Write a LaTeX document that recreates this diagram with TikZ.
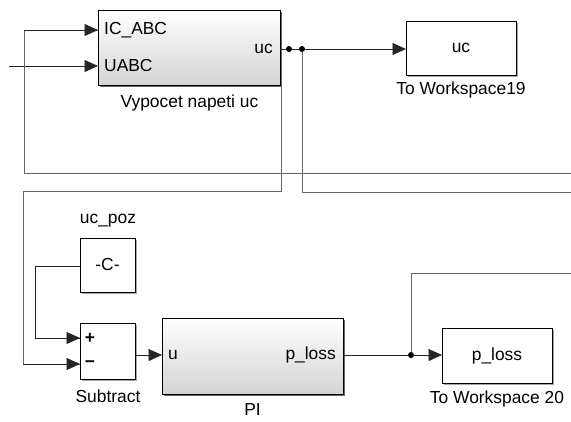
\documentclass[tikz,border=0pt]{standalone}
\usepackage{fontspec}
\setmainfont{Liberation Sans}
\usetikzlibrary{arrows.meta,shadows}
\begin{document}
\begin{tikzpicture}[x=1pt,y=-1pt,
  sig/.style={draw=black!85, line width=0.8pt},
  sigarrow/.style={sig, -{Triangle[length=13.5pt,width=12pt]}},
  fb/.style={draw=black!60, line width=0.9pt},
  block/.style={draw=black, line width=0.9pt, fill=white, inner sep=0pt, outer sep=0pt},
  gblock/.style={block, top color=white, bottom color=black!17,
    drop shadow={shadow xshift=2pt, shadow yshift=-2pt, fill=black!60, opacity=1}},
  wblock/.style={block,
    drop shadow={shadow xshift=1.5pt, shadow yshift=-1.5pt, fill=black!35, opacity=1}},
  txt/.style={font=\fontsize{17.4}{20}\selectfont, inner sep=0pt},
  dot/.style={circle, fill=black, inner sep=0pt, minimum size=6pt}]

\useasboundingbox (0,0) rectangle (571,421);

% ---- blocks ----
\node[gblock, minimum width=182pt, minimum height=75pt] (vyp) at (189,47.5) {};
\node[wblock, minimum width=110pt, minimum height=54pt] (tw19) at (461,48) {};
\node[wblock, minimum width=55pt, minimum height=54pt] (const) at (107.5,265) {};
\node[wblock, minimum width=55pt, minimum height=56pt] (sub) at (107.5,351) {};
\node[gblock, minimum width=181pt, minimum height=76pt] (pi) at (252.5,356) {};
\node[wblock, minimum width=110pt, minimum height=55pt] (tw20) at (497,355.5) {};

% ---- block texts ----
\node[txt, anchor=west] at (104,30) {IC\_ABC};
\node[txt, anchor=west] at (104,66) {UABC};
\node[txt, anchor=east] at (273,49) {uc};
\node[txt] at (189.5,103) {Vypocet napeti uc};
\node[txt] at (tw19) {uc};
\node[txt] at (461,90) {To Workspace19};
\node[txt] at (108,221) {uc\_poz};
\node[txt] at (const) {-C-};
\node[txt] at (90,338) {\textbf{+}};
\node[txt] at (90,364) {\textbf{−}};
\node[txt] at (108,396) {Subtract};
\node[txt, anchor=west] at (168,355) {u};
\node[txt, anchor=east] at (336,355) {p\_loss};
\node[txt] at (252.5,410) {PI};
\node[txt] at (tw20) {p\_loss};
\node[txt] at (497,399) {To Workspace 20};

% ---- ports and branch points ----
\coordinate (vypin1) at (98,30);
\coordinate (vypin2) at (98,66);
\coordinate (vypout) at (280,49);
\coordinate (tw19in) at (406,49);
\coordinate (subplus) at (80,338);
\coordinate (subminus) at (80,364);
\coordinate (subout) at (135,355);
\coordinate (piin) at (162,355);
\coordinate (piout) at (343,355);
\coordinate (tw20in) at (442,355);
\coordinate (constout) at (80,266);
\coordinate (uabcsrc) at (9,66);
\coordinate (edgeA) at (571,173);
\coordinate (edgeC) at (571,192);
\coordinate (edgeP) at (571,273);
\coordinate (tapB) at (281,87);
\node[dot] (d1) at (289,49) {};
\node[dot] (d2) at (302,49) {};
\node[dot] (d3) at (411,355) {};

% ---- signal lines ----
\draw[sigarrow] (uabcsrc) -- (vypin2);
\draw[sig] (vypout) -- (d1) -- (d2);
\draw[sigarrow] (d2) -- (tw19in);
\draw[fb] (edgeA) -- (24,173) -- (24,30) -- (vypin1);
\draw[sigarrow] (24,30) -- (vypin1);
\draw[fb] (tapB) -- (281,191) -- (23,191) -- (23,364) -- (subminus);
\draw[sigarrow] (23,364) -- (subminus);
\draw[fb] (d2) -- (302,192) -- (edgeC);
\draw[sig] (constout) -- (35,266) -- (35,338) -- (subplus);
\draw[sigarrow] (35,338) -- (subplus);
\draw[sigarrow] (subout) -- (piin);
\draw[sig] (piout) -- (d3);
\draw[sigarrow] (d3) -- (tw20in);
\draw[fb] (d3) -- (411,273) -- (edgeP);
\end{tikzpicture}
\end{document}
